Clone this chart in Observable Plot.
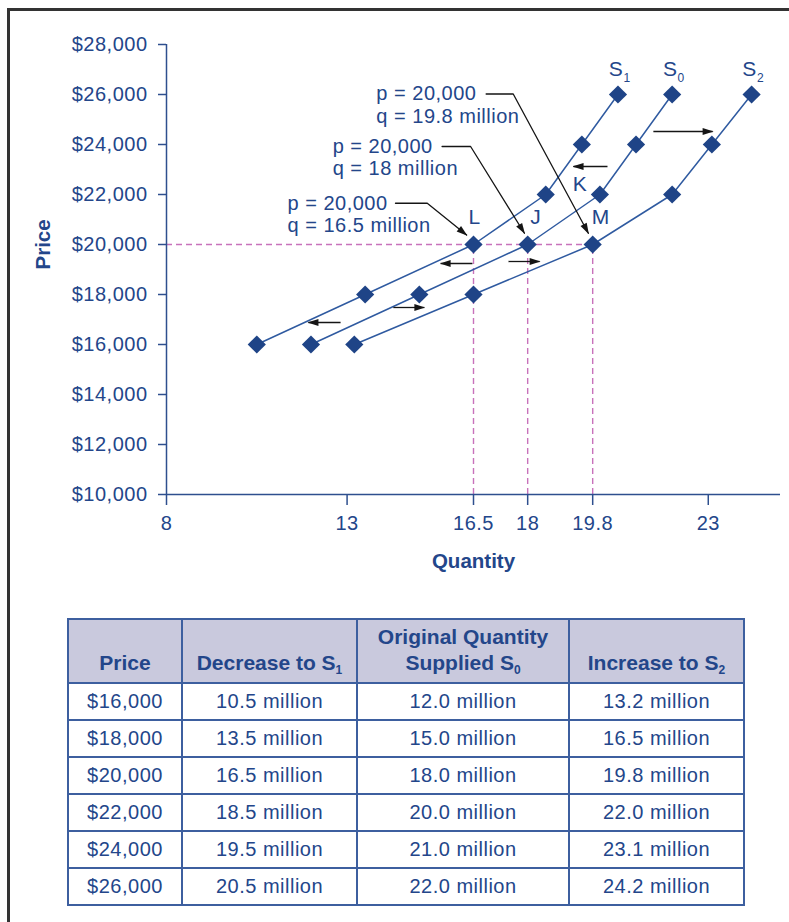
<!DOCTYPE html>
<html><head><meta charset="utf-8">
<script src="https://cdn.jsdelivr.net/npm/d3@7"></script>
<script src="https://cdn.jsdelivr.net/npm/@observablehq/plot@0.6"></script>
<style>
html,body{margin:0;padding:0;background:#fff;}
body{width:789px;height:922px;position:relative;overflow:hidden;font-family:"Liberation Sans",Arial,sans-serif;}
#frame{position:absolute;left:7px;top:8px;width:820px;height:940px;border-left:3px solid #333;border-top:3px solid #333;}
#chart{position:absolute;left:0;top:0;}
#tbl{position:absolute;left:67px;top:618px;border-collapse:collapse;table-layout:fixed;width:678px;color:#23468a;font-size:20px;letter-spacing:0.5px;}
#tbl th,#tbl td{border:2px solid #3d5f9f;text-align:center;padding:0;}
#tbl th{background:#c9c9dd;vertical-align:bottom;padding-bottom:6px;font-size:21px;line-height:26px;letter-spacing:0;font-weight:bold;}
#tbl tr.h{height:64px;}
#tbl tr.r{height:37px;}
#tbl sub{font-size:12px;vertical-align:-4px;line-height:0;}
</style></head><body>
<div id="frame"></div>
<div id="chart"></div>
<table id="tbl"></table>
<script>
// ---- data ----
const prices = [16000, 18000, 20000, 22000, 24000, 26000];
const qtyS1 = [10.5, 13.5, 16.5, 18.5, 19.5, 20.5];   // decrease to S1
const qtyS0 = [12.0, 15.0, 18.0, 20.0, 21.0, 22.0];   // original S0
const qtyS2 = [13.2, 16.5, 19.8, 22.0, 23.1, 24.2];   // increase to S2
const seriesNames = ["S1", "S0", "S2"];
const seriesSubs = ["1", "0", "2"];
const xTicks = [8, 13, 16.5, 18, 19.8, 23];
const yTicks = [10000, 12000, 14000, 16000, 18000, 20000, 22000, 24000, 26000, 28000];
const equilibriumPrice = 20000;
const equilibriumQty = [16.5, 18, 19.8];
const pointLabels = [
  {label: "L", q: 16.5, p: 20000},
  {label: "J", q: 18, p: 20000},
  {label: "M", q: 19.8, p: 20000},
  {label: "K", q: 20, p: 22000}
];
const calloutLines = [
  {id: "M", q: 13.81, p: 26020, text: "p = 20,000"},
  {id: "M", q: 13.81, p: 25120, text: "q = 19.8 million"},
  {id: "J", q: 12.60, p: 23920, text: "p = 20,000"},
  {id: "J", q: 12.60, p: 23020, text: "q = 18 million"},
  {id: "L", q: 11.35, p: 21650, text: "p = 20,000"},
  {id: "L", q: 11.35, p: 20750, text: "q = 16.5 million"}
];
const calloutPaths = [
  {id: "M", q: 16.85, p: 26020}, {id: "M", q: 17.60, p: 26020}, {id: "M", q: 19.68, p: 20450},
  {id: "J", q: 15.63, p: 23920}, {id: "J", q: 16.42, p: 23920}, {id: "J", q: 17.91, p: 20450},
  {id: "L", q: 14.34, p: 21650}, {id: "L", q: 15.22, p: 21650}, {id: "L", q: 16.31, p: 20380}
];
const shiftArrows = [
  {q1: 21.48, q2: 23.12, p: 24520},
  {q1: 20.21, q2: 19.27, p: 23120},
  {q1: 16.47, q2: 15.59, p: 19240},
  {q1: 17.47, q2: 18.33, p: 19320},
  {q1: 12.82, q2: 11.93, p: 16880},
  {q1: 14.28, q2: 15.14, p: 17480}
];
const tableHeads = [["Price"], ["Decrease to S", "1"], ["Original Quantity", "Supplied S", "0"], ["Increase to S", "2"]];

// ---- build ----
const TEXT = "#23468a", AXIS = "#2e4f8e", LINE = "#2f5aa0", DIAMOND = "#1f4487", PINK = "#c872bb", BLACK = "#151515";
const FONT = "'Liberation Sans', Arial, sans-serif";
const qtys = [qtyS1, qtyS0, qtyS2];
const rows = [];
seriesNames.forEach((name, i) => prices.forEach((p, j) => rows.push({name, sub: seriesSubs[i], q: qtys[i][j], p})));
const tops = seriesNames.map((name, i) => ({name, sub: seriesSubs[i], q: qtys[i][prices.length - 1], p: prices[prices.length - 1]}));
const labelOffsets = {L: [1, -27], J: [8, -27], M: [8, -27], K: [-20, -10]};

const plot = Plot.plot({
  width: 789, height: 590,
  marginLeft: 166, marginRight: 9, marginTop: 44, marginBottom: 96,
  x: {domain: [8, 25]},
  y: {domain: [10000, 28000]},
  style: {fontFamily: FONT, fontSize: "20px", color: TEXT, background: "transparent", overflow: "visible", letterSpacing: "0.5px"},
  marks: [
    Plot.ruleX(equilibriumQty, {x: d => d, y1: 10000, y2: equilibriumPrice, stroke: PINK, strokeWidth: 1.4, strokeDasharray: "6,4"}),
    Plot.ruleY([equilibriumPrice], {y: d => d, x1: 8, x2: d3.max(equilibriumQty), stroke: PINK, strokeWidth: 1.4, strokeDasharray: "6,4"}),
    Plot.axisY({ticks: yTicks, tickSize: 8, tickPadding: 11, tickFormat: d3.format("$,"), stroke: AXIS, fill: TEXT, strokeWidth: 1.5, label: null, fontSize: 20}),
    Plot.axisX({ticks: xTicks, tickSize: 11, tickPadding: 10, tickFormat: d => String(d), stroke: AXIS, fill: TEXT, strokeWidth: 1.5, label: null, fontSize: 20}),
    Plot.ruleX([8], {y1: 10000, y2: 28000, stroke: AXIS, strokeWidth: 1.5}),
    Plot.ruleY([10000], {x1: 8, x2: 25, stroke: AXIS, strokeWidth: 1.5}),
    Plot.text(["Quantity"], {frameAnchor: "bottom", dy: 73, fontWeight: "bold", fontSize: 20.5, fill: TEXT}),
    Plot.text(["Price"], {frameAnchor: "left", dx: -123, rotate: -90, fontWeight: "bold", fontSize: 20.5, fill: TEXT}),
    Plot.line(rows, {x: "q", y: "p", z: "name", stroke: LINE, strokeWidth: 1.5}),
    Plot.dot(rows, {x: "q", y: "p", symbol: "diamond2", r: 8.2, fill: DIAMOND, stroke: "none"}),
    Plot.line(calloutPaths, {x: "q", y: "p", z: "id", stroke: BLACK, strokeWidth: 1.3, markerEnd: "arrow"}),
    Plot.link(shiftArrows, {x1: "q1", x2: "q2", y1: "p", y2: "p", stroke: BLACK, strokeWidth: 1.3, markerEnd: "arrow"}),
    Plot.text(calloutLines, {x: "q", y: "p", text: "text", textAnchor: "start", lineAnchor: "middle", fill: TEXT, fontSize: 20}),
    ...pointLabels.map(d => Plot.text([d], {x: "q", y: "p", text: "label", dx: labelOffsets[d.label][0], dy: labelOffsets[d.label][1], fill: TEXT, fontSize: 21})),
    Plot.text(tops, {x: "q", y: "p", text: d => "S", dx: -2, dy: -25, fill: TEXT, fontSize: 21}),
    Plot.text(tops, {x: "q", y: "p", text: "sub", dx: 9, dy: -16, fill: TEXT, fontSize: 12})
  ]
});

// bold titles without extra tracking
plot.querySelectorAll('[font-weight="bold"]').forEach(g => g.setAttribute("letter-spacing", "0"));

// filled arrowheads
plot.querySelectorAll("marker").forEach(m => {
  const c = m.getAttribute("stroke") || BLACK;
  m.setAttribute("viewBox", "-11 -4 12 8");
  m.setAttribute("markerWidth", 12);
  m.setAttribute("markerHeight", 8);
  m.setAttribute("markerUnits", "userSpaceOnUse");
  m.setAttribute("fill", c);
  m.setAttribute("stroke", "none");
  m.querySelectorAll("path").forEach(p => p.setAttribute("d", "M-10,-3.5L1,0L-10,3.5Z"));
});
document.getElementById("chart").append(plot);

// table
const tbl = document.getElementById("tbl");
const colgroup = document.createElement("colgroup");
[114, 175, 212, 175].forEach(w => { const c = document.createElement("col"); c.style.width = w + "px"; colgroup.append(c); });
tbl.append(colgroup);
const hr = document.createElement("tr"); hr.className = "h";
tableHeads.forEach(h => {
  const th = document.createElement("th");
  if (h.length === 1) th.append(h[0]);
  else if (h.length === 2) { th.append(h[0]); const s = document.createElement("sub"); s.textContent = h[1]; th.append(s); }
  else { th.append(h[0]); th.append(document.createElement("br")); th.append(h[1]); const s = document.createElement("sub"); s.textContent = h[2]; th.append(s); }
  hr.append(th);
});
tbl.append(hr);
const fmt = d3.format(",");
prices.forEach((p, j) => {
  const tr = document.createElement("tr"); tr.className = "r";
  ["$" + fmt(p), qtyS1[j].toFixed(1) + " million", qtyS0[j].toFixed(1) + " million", qtyS2[j].toFixed(1) + " million"].forEach(t => {
    const td = document.createElement("td"); td.textContent = t; tr.append(td);
  });
  tbl.append(tr);
});
</script>
</body></html>
